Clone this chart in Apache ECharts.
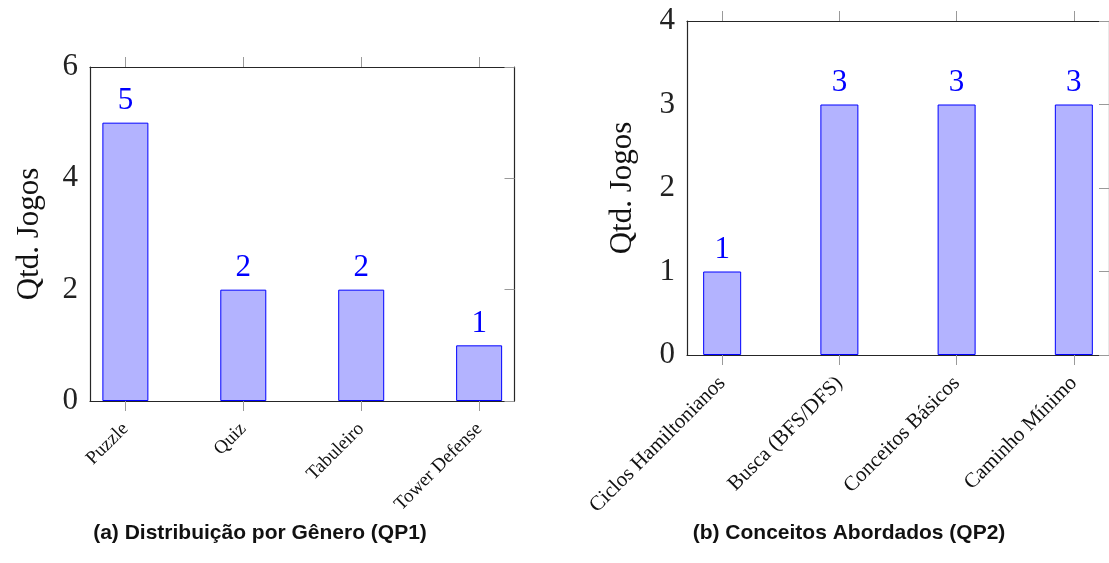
<!DOCTYPE html>
<html>
<head>
<meta charset="utf-8">
<script src="https://cdn.jsdelivr.net/npm/echarts@6/dist/echarts.min.js"></script>
<style>
html,body{margin:0;padding:0;background:#fff;}
#c{width:1109px;height:563px;}
</style>
</head>
<body>
<div id="c"></div>
<script>
// Data
const genreCategories = ['Puzzle', 'Quiz', 'Tabuleiro', 'Tower Defense'];
const genreValues = [5, 2, 2, 1];
const conceptCategories = ['Ciclos Hamiltonianos', 'Busca (BFS/DFS)', 'Conceitos Básicos', 'Caminho Mínimo'];
const conceptValues = [1, 3, 3, 3];
const captionA = '(a) Distribuição por Gênero (QP1)';
const captionB = '(b) Conceitos Abordados (QP2)';
const yAxisName = 'Qtd. Jogos';

const SERIF = '"Liberation Serif", "DejaVu Serif", serif';
const AXIS_COLOR = '#262626';
const TICK_COLOR = '#9a9a9a';

function idx(cats) { return cats.map((_, i) => i); }

function buildAxes(gi, cats, yMax, yInterval, catFont, nameGap) {
  const ids = idx(cats);
  const xBottom = {
    type: 'value', gridIndex: gi, position: 'bottom', min: -0.3, max: cats.length - 0.7,
    splitLine: { show: false },
    axisLine: { show: true, onZero: false, lineStyle: { color: AXIS_COLOR, width: 1.2 } },
    axisTick: { show: true, inside: false, length: 10, customValues: ids, lineStyle: { color: TICK_COLOR, width: 1 } },
    axisLabel: {
      show: true, customValues: ids, rotate: 45, margin: 25,
      formatter: v => cats[Math.round(v)],
      fontFamily: SERIF, fontSize: catFont, color: '#111'
    }
  };
  const xTop = {
    type: 'value', gridIndex: gi, position: 'top', min: -0.3, max: cats.length - 0.7,
    splitLine: { show: false },
    axisLine: { show: true, onZero: false, lineStyle: { color: AXIS_COLOR, width: 1.2 } },
    axisTick: { show: true, inside: false, length: 10, customValues: ids, lineStyle: { color: TICK_COLOR, width: 1 } },
    axisLabel: { show: false }
  };
  const yLeft = {
    type: 'value', gridIndex: gi, position: 'left', min: 0, max: yMax, interval: yInterval,
    splitLine: { show: false },
    axisLine: { show: true, onZero: false, lineStyle: { color: AXIS_COLOR, width: 1.2 } },
    axisTick: { show: false },
    axisLabel: { show: true, margin: 12, fontFamily: SERIF, fontSize: 31, color: '#222' },
    name: yAxisName, nameLocation: 'middle', nameRotate: 90, nameGap: nameGap,
    nameTextStyle: { fontFamily: SERIF, fontSize: 31, color: '#111' }
  };
  const yRight = {
    type: 'value', gridIndex: gi, position: 'right', min: 0, max: yMax, interval: yInterval,
    splitLine: { show: false },
    axisLine: { show: true, onZero: false, lineStyle: { color: AXIS_COLOR, width: 1.2 } },
    axisTick: { show: true, inside: true, length: 10, lineStyle: { color: TICK_COLOR, width: 1 } },
    axisLabel: { show: false }
  };
  return { x: [xBottom, xTop], y: [yLeft, yRight] };
}

const A = buildAxes(0, genreCategories, 6, 2, 19, 45);
const B = buildAxes(1, conceptCategories, 4, 1, 21, 49);

function barSeries(xi, yi, values, width) {
  return {
    type: 'bar', xAxisIndex: xi, yAxisIndex: yi, barWidth: width,
    data: values.map((v, i) => [i, v]),
    itemStyle: { color: '#b3b3ff', borderColor: '#0000ff', borderWidth: 1 },
    label: {
      show: true, position: 'top', distance: 6,
      formatter: p => String(p.value[1]),
      fontFamily: SERIF, fontSize: 31, color: '#0000ff'
    },
    silent: true, animation: false
  };
}

const chart = echarts.init(document.getElementById('c'), null, { renderer: 'canvas' });
chart.setOption({
  animation: false,
  backgroundColor: '#fff',
  grid: [
    { left: 90, top: 67, width: 424.5, height: 334, containLabel: false },
    { left: 687, top: 21, width: 426, height: 334, containLabel: false }
  ],
  xAxis: [A.x[0], A.x[1], B.x[0], B.x[1]],
  yAxis: [A.y[0], A.y[1], B.y[0], B.y[1]],
  series: [
    barSeries(0, 0, genreValues, 46),
    barSeries(2, 2, conceptValues, 38)
  ],
  graphic: [
    { type: 'text', x: 260, y: 533, style: { text: captionA, font: 'bold 21px "Liberation Sans", Arial, sans-serif', fill: '#111', textAlign: 'center', textVerticalAlign: 'middle' } },
    { type: 'text', x: 849, y: 533, style: { text: captionB, font: 'bold 21px "Liberation Sans", Arial, sans-serif', fill: '#111', textAlign: 'center', textVerticalAlign: 'middle' } }
  ]
});
</script>
</body>
</html>
